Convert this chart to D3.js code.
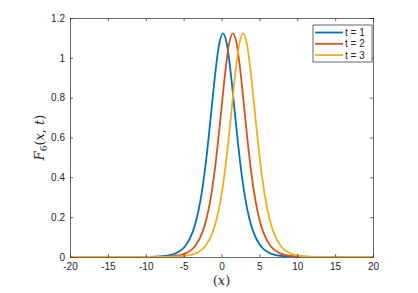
<!DOCTYPE html>
<html>
<head>
<meta charset="utf-8">
<script src="https://cdn.jsdelivr.net/npm/d3@7"></script>
<style>
  body { margin: 0; background: #fff; }
  text { font-family: "Liberation Sans", Arial, sans-serif; }
</style>
</head>
<body>
<div id="chart"></div>
<script>
// values
const xTicks = [-20, -15, -10, -5, 0, 5, 10, 15, 20];
const yTicks = [0, 0.2, 0.4, 0.6, 0.8, 1, 1.2];
const seriesNames = ['t = 1', 't = 2', 't = 3'];
const colors = ['#0072BD', '#D95319', '#EDB120'];

const x1 = [-20, -11.8, -9.8, -7.8, -6.8, -5.8, -4.8, -3.8, -3.3, -2.8, -2.3, -1.8, -1.3, -0.8, -0.3, 0.2,
  0.7, 1.2, 1.7, 2.2, 2.7, 3.2, 3.7, 4.2, 5.2, 6.2, 7.2, 8.2, 10.2, 12.2, 20];
const y1 = [0, 0.0001, 0.0007, 0.004, 0.0095, 0.023, 0.054, 0.126, 0.190, 0.279, 0.403, 0.563, 0.747, 0.931, 1.070, 1.123,
  1.070, 0.931, 0.747, 0.563, 0.403, 0.279, 0.190, 0.126, 0.054, 0.023, 0.0095, 0.004, 0.0007, 0.0001, 0];

const x2 = [-20, -10.5, -8.5, -6.5, -5.5, -4.5, -3.5, -2.5, -2, -1.5, -1, -0.5, 0, 0.5, 1, 1.5,
  2, 2.5, 3, 3.5, 4, 4.5, 5, 5.5, 6.5, 7.5, 8.5, 9.5, 11.5, 13.5, 20];
const y2 = [0, 0.0001, 0.0007, 0.004, 0.0095, 0.023, 0.054, 0.126, 0.190, 0.279, 0.403, 0.563, 0.747, 0.931, 1.070, 1.123,
  1.070, 0.931, 0.747, 0.563, 0.403, 0.279, 0.190, 0.126, 0.054, 0.023, 0.0095, 0.004, 0.0007, 0.0001, 0];

const x3 = [-20, -9.15, -7.15, -5.15, -4.15, -3.15, -2.15, -1.15, -0.65, -0.15, 0.35, 0.85, 1.35, 1.85, 2.35, 2.85,
  3.35, 3.85, 4.35, 4.85, 5.35, 5.85, 6.35, 6.85, 7.85, 8.85, 9.85, 10.85, 12.85, 14.85, 20];
const y3 = [0, 0.0001, 0.0007, 0.004, 0.0095, 0.023, 0.054, 0.126, 0.190, 0.279, 0.403, 0.563, 0.747, 0.931, 1.070, 1.123,
  1.070, 0.931, 0.747, 0.563, 0.403, 0.279, 0.190, 0.126, 0.054, 0.023, 0.0095, 0.004, 0.0007, 0.0001, 0];

const series = [[x1, y1], [x2, y2], [x3, y3]];

const WIDTH = 418, HEIGHT = 293;
const margin = {left: 70, top: 18, right: 45, bottom: 36};
const axColor = '#262626';

let svg = d3.select('#chart')
  .append('svg')
  .attr('width', WIDTH)
  .attr('height', HEIGHT);

let x = d3.scaleLinear().domain([-20, 20]).range([margin.left, WIDTH - margin.right]);
let y = d3.scaleLinear().domain([0, 1.2]).range([HEIGHT - margin.bottom, margin.top]);

//curves
let line = d3.line()
  .x(d => x(d[0]))
  .y(d => y(d[1]))
  .curve(d3.curveMonotoneX);

svg.append('clipPath').attr('id', 'clip')
  .append('rect')
  .attr('x', x(-20)).attr('y', y(1.2))
  .attr('width', x(20) - x(-20)).attr('height', y(0) - y(1.2));

series.forEach((s, i) => {
  let pts = s[0].map((v, j) => [v, s[1][j]]);
  svg.append('path')
    .datum(pts)
    .attr('d', line)
    .attr('fill', 'none')
    .attr('stroke', colors[i])
    .attr('stroke-width', 1.8)
    .attr('clip-path', 'url(#clip)');
});

//axes with inward ticks, box on
const tk = 3;
let gx = svg.append('g')
  .attr('transform', `translate(0,${y(0)})`)
  .call(d3.axisBottom(x).tickValues(xTicks).tickSizeInner(-tk).tickSizeOuter(0).tickPadding(6)
    .tickFormat(d => String(d)));
let gxTop = svg.append('g')
  .attr('transform', `translate(0,${y(1.2)})`)
  .call(d3.axisTop(x).tickValues(xTicks).tickSizeInner(-tk).tickSizeOuter(0).tickFormat(''));
let gy = svg.append('g')
  .attr('transform', `translate(${x(-20)},0)`)
  .call(d3.axisLeft(y).tickValues(yTicks).tickSizeInner(-tk).tickSizeOuter(0).tickPadding(5)
    .tickFormat(d => String(d)));
let gyRight = svg.append('g')
  .attr('transform', `translate(${x(20)},0)`)
  .call(d3.axisRight(y).tickValues(yTicks).tickSizeInner(-tk).tickSizeOuter(0).tickFormat(''));

[gx, gxTop, gy, gyRight].forEach(g => {
  g.selectAll('.domain').attr('stroke', axColor).attr('stroke-width', 0.7);
  g.selectAll('.tick line').attr('stroke', axColor).attr('stroke-width', 0.7);
  g.selectAll('.tick text').attr('fill', axColor).style('font-size', '10px');
});

//labels
svg.append('text')
  .attr('x', x(0))
  .attr('y', 285)
  .attr('text-anchor', 'middle')
  .style('font-family', '"DejaVu Serif", serif')
  .style('font-size', '13px')
  .attr('fill', axColor)
  .html('(<tspan font-style="italic">x</tspan>)');

svg.append('text')
  .attr('transform', `translate(44,${(y(0) + y(1.2)) / 2}) rotate(-90)`)
  .attr('text-anchor', 'middle')
  .style('font-family', '"DejaVu Serif", serif')
  .style('font-size', '13px')
  .attr('fill', axColor)
  .html('<tspan font-style="italic">F</tspan><tspan font-size="9px" dy="3">6</tspan><tspan dy="-3">(</tspan><tspan font-style="italic">x</tspan>, <tspan font-style="italic">t</tspan>)');

//legend
let leg = svg.append('g').attr('transform', 'translate(313,25)');
leg.append('rect')
  .attr('width', 59).attr('height', 37)
  .attr('fill', '#fff')
  .attr('stroke', axColor).attr('stroke-width', 0.7);
seriesNames.forEach((n, i) => {
  let cy = 7.5 + i * 11.3;
  leg.append('line')
    .attr('x1', 2).attr('x2', 30)
    .attr('y1', cy).attr('y2', cy)
    .attr('stroke', colors[i]).attr('stroke-width', 1.8);
  leg.append('text')
    .attr('x', 32).attr('y', cy + 3.5)
    .style('font-size', '10px')
    .attr('fill', axColor)
    .text(n);
});
</script>
</body>
</html>
